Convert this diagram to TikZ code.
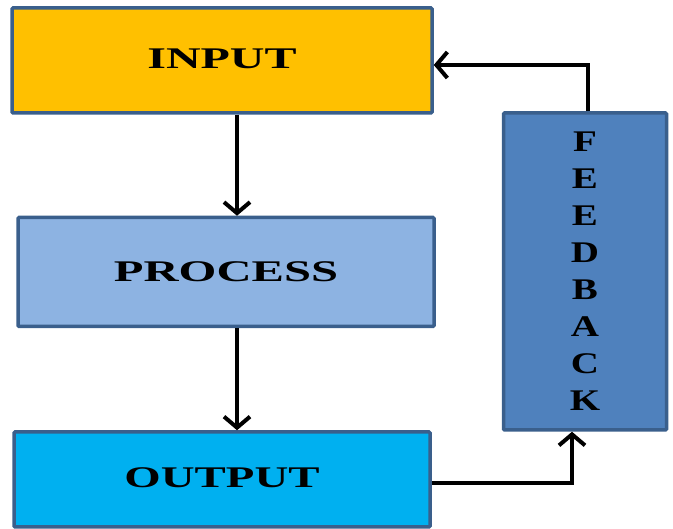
\documentclass[tikz,border=0pt]{standalone}
\usepackage{fontspec}
\setmainfont{Liberation Serif}
\usetikzlibrary{arrows.meta}
\definecolor{inputc}{HTML}{FFC000}
\definecolor{processc}{HTML}{8DB3E2}
\definecolor{outputc}{HTML}{00B0F0}
\definecolor{feedc}{HTML}{4F81BD}
\definecolor{edgec}{HTML}{3A5F8C}
\begin{document}
\begin{tikzpicture}[x=1pt,y=-1pt,
  blockbox/.style={draw=edgec, line width=3.5pt, inner sep=0pt, rounded corners=1pt,
    font=\fontsize{30}{37}\selectfont\bfseries, text=black},
  arr/.style={line width=4pt, -{Straight Barb[length=11pt,width=26pt,line width=4pt]}}]
\useasboundingbox (0,0) rectangle (673,529);
\node[blockbox, fill=inputc, minimum width=420pt, minimum height=105pt] (input) at (222,60.5) {\raisebox{3pt}{\scalebox{1.6}[1]{INPUT}}};
\node[blockbox, fill=processc, minimum width=416pt, minimum height=109pt] (process) at (226,272) {\scalebox{1.62}[1]{PROCESS}};
\node[blockbox, fill=outputc, minimum width=416pt, minimum height=95pt] (output) at (222,479.5) {\raisebox{4pt}{\scalebox{1.56}[1]{OUTPUT}}};
\node[blockbox, fill=feedc, minimum width=163pt, minimum height=317pt, align=center] (feedback) at (585,271.5)
  {\scalebox{1.3}[1]{F}\\\scalebox{1.3}[1]{E}\\\scalebox{1.3}[1]{E}\\\scalebox{1.3}[1]{D}\\\scalebox{1.3}[1]{B}\\\scalebox{1.3}[1]{A}\\\scalebox{1.3}[1]{C}\\\scalebox{1.3}[1]{K}};
\coordinate (down) at (237,0);
\coordinate (topbend) at (588,65);
\coordinate (botbend) at (572,483);
\draw[arr] (down |- input.south) -- (down |- process.north);
\draw[arr] (down |- process.south) -- (down |- output.north);
\draw[arr] (botbend -| output.east) -- (botbend) -- (botbend |- feedback.south);
\draw[arr] (topbend |- feedback.north) -- (topbend) -- (topbend -| input.east);
\end{tikzpicture}
\end{document}
